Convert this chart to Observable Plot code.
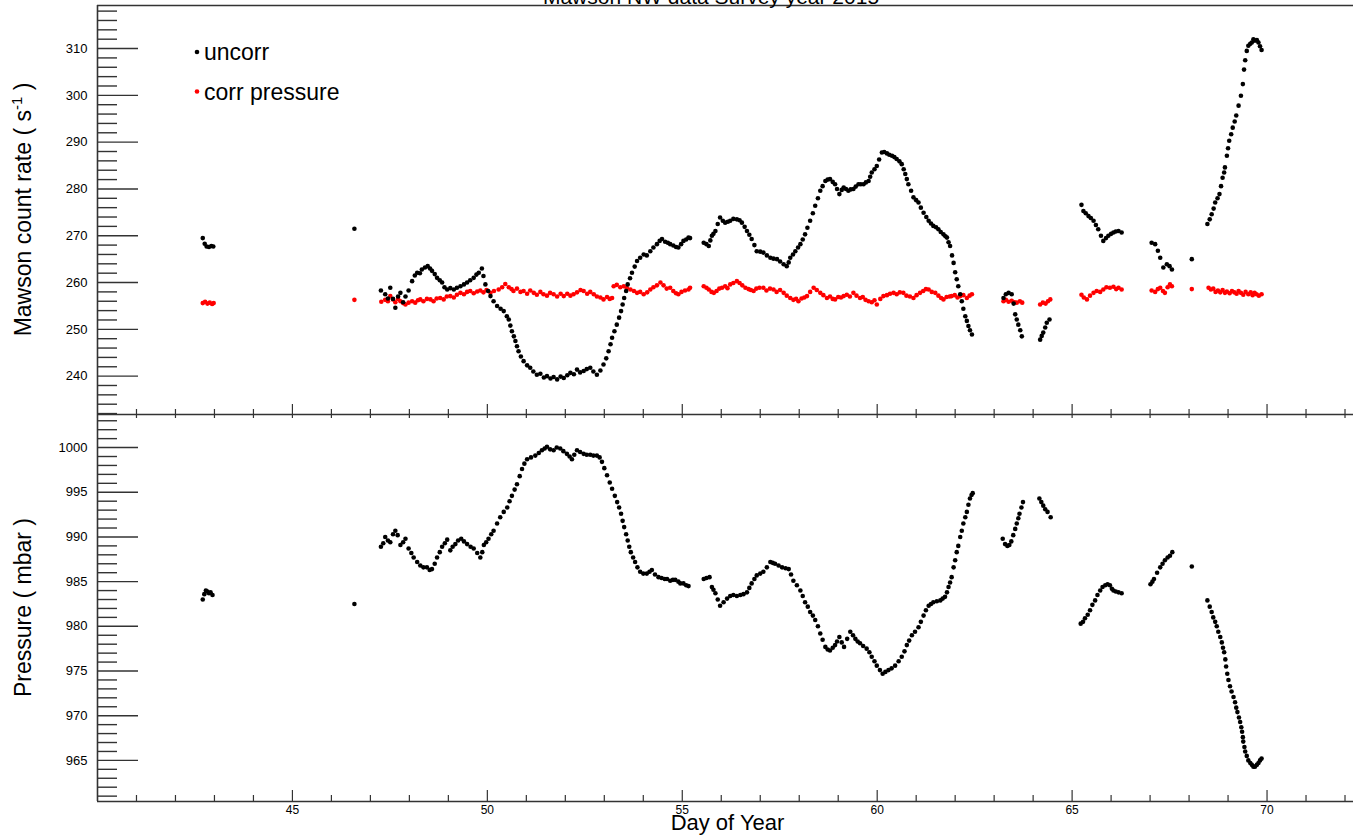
<!DOCTYPE html>
<html>
<head>
<meta charset="utf-8">
<script src="https://cdn.jsdelivr.net/npm/d3@7"></script>
<script src="https://cdn.jsdelivr.net/npm/@observablehq/plot@0.6"></script>
<style>
  html, body { margin: 0; padding: 0; background: #fff; overflow: hidden; }
  #chart { position: relative; width: 1353px; height: 838px; }
  #chart svg { position: absolute; left: 0; overflow: visible; max-width: none; }
</style>
</head>
<body>
<div id="chart"></div>
<script>
// Mawson neutron monitor, survey year: count rate and station pressure vs day of year.

const titleText = "Mawson NW data Survey year 2015";
const xTitle = "Day of Year";
const rateTitle = "Mawson count rate ( s";
const pressTitle = "Pressure ( mbar )";
const seriesNames = ["uncorr", "corr pressure"];

// [day of year, count rate s^-1] — uncorrected
const uncorrRate = [
  [42.70,269.5],[42.75,268.3],[42.80,267.7],[42.86,267.6],[42.92,267.8],[42.97,267.7],
  [46.59,271.5],
  [47.27,258.3],[47.38,257.5],[47.45,256.6],[47.51,258.9],[47.58,256.5],[47.64,254.6],[47.71,257.0],
  [47.77,257.8],[47.84,255.8],[47.90,257.0],[47.98,258.3],[48.07,260.3],[48.14,261.5],[48.20,262.1],
  [48.27,262.0],[48.32,262.8],[48.40,263.2],[48.47,263.5],[48.53,263.0],[48.58,262.5],[48.65,261.8],
  [48.71,261.0],[48.78,260.5],[48.84,260.0],[48.90,259.0],[48.97,258.5],[49.05,258.8],[49.14,258.5],
  [49.22,258.9],[49.31,259.2],[49.40,259.6],[49.48,260.0],[49.56,260.5],[49.65,261.0],[49.72,261.7],
  [49.78,262.1],[49.86,263.0],[49.90,261.4],[49.95,259.6],[50.02,258.2],[50.08,257.1],[50.16,256.0],
  [50.25,255.0],[50.34,254.4],[50.42,253.9],[50.50,252.8],[50.55,252.1],[50.59,250.8],[50.63,249.6],
  [50.68,248.5],[50.72,247.5],[50.76,246.4],[50.80,245.3],[50.86,244.2],[50.93,243.2],[51.02,242.3],
  [51.10,241.8],[51.18,241.0],[51.27,240.3],[51.36,240.5],[51.45,239.7],[51.53,240.0],[51.62,239.5],
  [51.70,239.8],[51.79,239.3],[51.88,239.9],[51.96,239.6],[52.05,240.2],[52.13,240.7],[52.22,240.4],
  [52.30,241.4],[52.38,240.8],[52.47,241.1],[52.55,241.5],[52.64,241.8],[52.72,241.0],[52.81,240.3],
  [52.90,241.2],[52.98,242.5],[53.05,243.8],[53.11,245.3],[53.16,246.8],[53.20,248.2],[53.26,249.6],
  [53.32,251.0],[53.38,252.5],[53.43,253.9],[53.47,255.3],[53.51,256.7],[53.56,258.2],[53.60,259.6],
  [53.66,260.9],[53.71,262.1],[53.78,263.4],[53.84,264.6],[53.92,265.3],[54.01,266.0],[54.09,265.8],
  [54.18,266.7],[54.26,267.5],[54.35,268.2],[54.42,268.9],[54.48,269.3],[54.56,268.7],[54.63,268.5],
  [54.69,268.2],[54.77,267.9],[54.84,267.6],[54.90,267.5],[54.97,268.2],[55.03,268.9],[55.10,269.2],
  [55.16,269.6],[55.20,269.5],
  [55.55,268.5],[55.62,268.2],[55.68,267.8],[55.72,269.0],[55.76,270.0],[55.80,270.4],[55.85,271.0],
  [55.91,272.5],[55.97,273.9],[56.04,273.2],[56.10,272.8],[56.17,273.0],[56.23,273.2],[56.31,273.6],
  [56.40,273.5],[56.47,273.3],[56.53,272.8],[56.60,271.9],[56.66,271.0],[56.72,270.2],[56.78,269.3],
  [56.85,268.0],[56.91,266.7],[57.00,266.6],[57.08,266.4],[57.17,265.8],[57.26,265.3],[57.34,265.1],
  [57.43,265.0],[57.51,264.5],[57.60,263.9],[57.68,263.5],[57.73,264.3],[57.77,265.3],[57.84,266.0],
  [57.90,266.7],[57.97,267.5],[58.03,268.2],[58.09,269.2],[58.15,270.3],[58.21,271.7],[58.28,273.2],
  [58.35,274.8],[58.41,276.4],[58.48,278.0],[58.54,279.6],[58.60,280.6],[58.67,281.7],[58.73,282.0],
  [58.79,282.1],[58.86,281.5],[58.92,281.0],[58.97,280.0],[59.03,278.9],[59.09,279.8],[59.14,280.3],
  [59.20,280.0],[59.26,279.6],[59.32,279.9],[59.39,280.0],[59.45,280.5],[59.52,281.0],[59.58,281.0],
  [59.65,281.0],[59.71,281.4],[59.78,281.7],[59.82,282.6],[59.86,283.5],[59.93,284.2],[59.99,284.9],
  [60.05,286.3],[60.12,287.8],[60.18,287.9],[60.25,287.6],[60.31,287.3],[60.38,287.1],[60.44,286.8],
  [60.50,286.4],[60.57,285.9],[60.63,285.3],[60.68,284.2],[60.72,283.2],[60.76,282.1],[60.80,281.0],
  [60.87,279.6],[60.93,278.2],[61.00,277.6],[61.06,277.1],[61.12,276.0],[61.19,274.9],[61.26,274.0],
  [61.32,273.2],[61.38,272.6],[61.44,272.1],[61.51,271.8],[61.57,271.4],[61.63,270.8],[61.70,270.3],
  [61.75,269.9],[61.79,269.6],[61.83,268.6],[61.87,267.8],[61.92,265.8],[61.96,264.2],[62.00,262.2],
  [62.04,260.7],[62.08,259.2],[62.13,257.5],[62.17,256.0],[62.21,254.4],[62.26,252.8],[62.30,251.8],
  [62.34,250.7],[62.38,249.8],[62.43,248.9],
  [63.24,256.7],[63.30,257.5],[63.37,257.8],[63.45,257.5],[63.50,255.5],[63.54,253.2],[63.58,252.1],
  [63.62,251.0],[63.67,249.8],[63.71,248.5],
  [64.18,247.8],[64.22,248.6],[64.26,249.3],[64.31,250.4],[64.35,251.4],[64.42,252.1],
  [65.24,276.6],[65.29,275.3],[65.35,274.8],[65.42,274.2],[65.48,273.8],[65.55,273.2],[65.61,272.3],
  [65.67,271.4],[65.74,270.0],[65.80,268.9],[65.87,269.5],[65.93,270.0],[66.00,270.4],[66.06,270.7],
  [66.12,270.9],[66.19,271.0],[66.27,270.7],
  [67.04,268.5],[67.13,268.2],[67.20,266.8],[67.26,265.3],[67.34,263.2],[67.43,263.9],[67.50,263.5],
  [67.56,262.8],
  [68.07,265.0],
  [68.47,272.5],[68.53,273.5],[68.58,274.6],[68.63,275.8],[68.67,277.1],[68.73,278.0],[68.78,278.9],
  [68.82,280.6],[68.86,282.4],[68.90,283.5],[68.92,284.6],[68.97,287.1],[69.00,288.7],[69.03,290.3],
  [69.08,291.7],[69.12,293.1],[69.17,294.4],[69.21,295.7],[69.27,297.8],[69.33,299.9],[69.38,302.4],
  [69.41,305.5],[69.44,307.5],[69.48,309.5],[69.52,310.6],[69.57,311.0],[69.61,311.3],[69.65,312.0],
  [69.69,311.7],[69.74,311.8],[69.78,311.3],[69.82,310.5],[69.86,309.7]
];

// [day of year, count rate s^-1] — corrected for pressure
const corrRate = [
  [42.70,255.6],[42.76,255.9],[42.82,255.5],[42.88,255.7],[42.94,255.4],[42.98,255.6],
  [46.59,256.3],
  [47.28,255.9],[47.38,256.3],[47.45,256.0],[47.51,257.1],[47.58,256.4],[47.64,255.8],[47.71,256.5],
  [47.77,256.0],[47.84,255.6],[47.90,255.3],[47.98,255.7],[48.07,256.0],[48.15,255.7],[48.22,256.2],
  [48.28,256.4],[48.36,256.0],[48.45,256.5],[48.54,256.4],[48.62,256.0],[48.70,256.6],[48.79,256.7],
  [48.88,256.4],[48.96,257.0],[49.05,257.1],[49.14,256.8],[49.22,257.4],[49.31,257.8],[49.40,257.5],
  [49.48,258.0],[49.56,258.2],[49.65,257.7],[49.74,258.1],[49.82,258.3],[49.90,257.9],[49.98,258.4],
  [50.08,257.8],[50.17,258.2],[50.29,258.5],[50.38,259.0],[50.46,259.7],[50.55,259.0],[50.62,258.6],
  [50.67,258.2],[50.76,258.7],[50.85,258.0],[50.93,258.2],[51.02,257.6],[51.10,258.3],[51.19,257.8],
  [51.27,257.4],[51.36,258.0],[51.44,257.5],[51.53,257.2],[51.61,257.8],[51.70,257.5],[51.79,257.0],
  [51.88,257.6],[51.96,257.1],[52.05,257.6],[52.13,257.2],[52.21,257.5],[52.30,257.9],[52.39,258.4],
  [52.47,258.2],[52.56,257.6],[52.64,258.0],[52.73,257.5],[52.81,257.0],[52.90,256.8],[52.98,256.4],
  [53.07,256.9],[53.14,256.5],[53.20,256.7],[53.24,259.2],[53.32,259.5],[53.41,259.0],[53.50,259.2],
  [53.58,258.8],[53.67,258.5],[53.76,258.2],[53.84,257.8],[53.92,258.0],[54.01,257.5],[54.10,257.9],
  [54.18,258.5],[54.26,259.0],[54.35,259.4],[54.44,260.0],[54.52,259.4],[54.60,258.7],[54.69,258.9],
  [54.77,258.2],[54.84,257.7],[54.90,257.5],[54.98,258.0],[55.07,258.3],[55.16,258.5],[55.20,258.9],
  [55.55,259.2],[55.62,258.9],[55.68,258.5],[55.75,258.0],[55.81,257.8],[55.88,258.2],[55.95,258.7],
  [56.02,258.9],[56.10,259.2],[56.16,258.8],[56.23,259.6],[56.31,259.9],[56.40,260.3],[56.47,259.9],
  [56.54,259.4],[56.62,258.9],[56.70,258.6],[56.76,258.4],[56.83,258.2],[56.90,258.7],[56.98,258.9],
  [57.08,258.9],[57.16,258.3],[57.25,258.7],[57.34,258.5],[57.42,258.0],[57.51,258.4],[57.60,257.8],
  [57.68,257.2],[57.77,256.7],[57.85,256.3],[57.92,256.5],[57.98,256.0],[58.06,256.6],[58.13,256.8],
  [58.20,257.1],[58.28,258.0],[58.37,258.9],[58.45,258.4],[58.54,257.8],[58.62,257.3],[58.71,256.7],
  [58.79,257.0],[58.86,256.5],[58.92,256.4],[59.00,256.9],[59.07,256.8],[59.14,257.1],[59.22,257.4],
  [59.30,257.0],[59.39,257.8],[59.47,257.2],[59.56,256.7],[59.63,256.9],[59.70,256.3],[59.78,256.0],
  [59.86,255.8],[59.93,256.2],[59.99,255.3],[60.08,256.5],[60.16,257.1],[60.25,257.3],[60.33,257.6],
  [60.42,257.8],[60.50,257.5],[60.58,257.9],[60.67,257.8],[60.75,257.2],[60.84,257.0],[60.93,256.7],
  [61.01,257.3],[61.10,257.8],[61.18,258.2],[61.25,258.6],[61.32,258.5],[61.40,258.0],[61.49,257.8],
  [61.57,257.2],[61.64,256.7],[61.70,256.4],[61.78,256.9],[61.86,257.0],[61.91,257.1],[61.99,257.3],
  [62.06,256.8],[62.13,257.1],[62.21,257.3],[62.30,256.7],[62.37,257.2],[62.43,257.5],
  [63.24,256.0],[63.30,256.3],[63.37,255.9],[63.45,256.1],[63.52,255.8],[63.58,255.7],[63.66,256.0],
  [63.72,255.7],
  [64.18,255.3],[64.25,255.7],[64.32,255.5],[64.38,256.0],[64.44,256.4],
  [65.24,257.4],[65.30,256.8],[65.38,256.4],[65.46,257.2],[65.55,257.8],[65.63,258.2],[65.72,258.0],
  [65.80,258.5],[65.88,259.0],[65.97,258.9],[66.06,259.1],[66.13,258.6],[66.19,258.9],[66.27,258.5],
  [67.04,258.3],[67.13,258.0],[67.20,258.6],[67.26,258.9],[67.33,258.2],[67.38,257.8],[67.45,259.0],
  [67.51,259.6],[67.56,259.2],
  [68.07,258.6],
  [68.50,258.9],[68.56,258.5],[68.62,258.7],[68.68,258.0],[68.74,258.3],[68.80,257.9],[68.86,258.4],
  [68.92,257.8],[68.97,258.1],[69.04,257.7],[69.10,258.2],[69.16,257.9],[69.22,257.6],[69.27,258.2],
  [69.33,257.8],[69.39,257.4],[69.45,258.0],[69.52,257.5],[69.58,257.9],[69.63,257.3],[69.68,257.8],
  [69.73,257.5],[69.79,257.2],[69.86,257.5]
];

// [day of year, station pressure mbar]
const pressure = [
  [42.70,983.0],[42.74,983.6],[42.78,984.0],[42.82,983.9],[42.86,983.7],[42.90,983.8],[42.95,983.5],
  [46.59,982.5],
  [47.27,988.9],[47.33,989.3],[47.38,990.0],[47.45,989.6],[47.51,989.4],[47.58,990.3],[47.64,990.7],
  [47.70,990.2],[47.77,989.1],[47.84,989.4],[47.90,989.8],[47.98,988.7],[48.05,988.2],[48.11,987.7],
  [48.20,987.2],[48.28,986.8],[48.36,986.6],[48.45,986.6],[48.52,986.3],[48.58,986.4],[48.65,987.0],
  [48.71,987.7],[48.78,988.3],[48.84,988.9],[48.91,989.3],[48.97,989.7],[49.05,988.5],[49.11,988.9],
  [49.18,989.2],[49.25,989.6],[49.33,989.8],[49.40,989.5],[49.48,989.2],[49.57,988.9],[49.65,988.7],
  [49.74,988.2],[49.82,987.7],[49.87,988.3],[49.91,989.1],[49.97,989.4],[50.03,989.8],[50.10,990.3],
  [50.16,990.7],[50.25,991.5],[50.33,992.2],[50.42,992.8],[50.51,993.3],[50.57,994.0],[50.63,994.6],
  [50.70,995.3],[50.76,995.9],[50.83,996.8],[50.89,997.6],[50.95,998.2],[51.02,998.7],[51.12,998.9],
  [51.23,999.1],[51.32,999.4],[51.40,999.7],[51.47,999.9],[51.53,1000.1],[51.61,999.8],[51.70,999.7],
  [51.78,1000.0],[51.87,999.9],[51.95,999.6],[52.04,999.3],[52.11,999.0],[52.17,998.7],[52.23,999.2],
  [52.30,999.7],[52.38,999.5],[52.47,999.3],[52.55,999.2],[52.64,999.2],[52.72,999.1],[52.81,999.1],
  [52.88,998.9],[52.94,998.4],[53.00,997.7],[53.07,996.9],[53.14,996.1],[53.20,995.4],[53.27,994.6],
  [53.33,993.9],[53.38,993.3],[53.43,992.6],[53.47,991.8],[53.51,991.1],[53.56,990.3],[53.60,989.6],
  [53.64,988.9],[53.68,988.3],[53.74,987.7],[53.79,987.2],[53.85,986.6],[53.92,986.1],[54.00,985.9],
  [54.09,985.9],[54.16,986.1],[54.22,986.3],[54.30,985.8],[54.39,985.5],[54.47,985.4],[54.55,985.3],
  [54.61,985.3],[54.69,985.1],[54.76,985.2],[54.82,985.2],[54.90,985.0],[54.95,984.8],[55.03,984.8],
  [55.10,984.6],[55.16,984.5],
  [55.55,985.3],[55.62,985.4],[55.70,985.5],[55.76,984.4],[55.80,984.1],[55.85,983.7],[55.91,983.0],
  [55.97,982.3],[56.06,982.7],[56.15,983.1],[56.23,983.4],[56.31,983.5],[56.40,983.4],[56.49,983.5],
  [56.57,983.6],[56.66,983.8],[56.72,984.3],[56.78,984.8],[56.85,985.3],[56.91,985.7],[57.00,985.9],
  [57.08,986.1],[57.17,986.6],[57.26,987.2],[57.32,987.1],[57.38,987.0],[57.47,986.8],[57.56,986.6],
  [57.65,986.5],[57.73,986.4],[57.79,985.8],[57.85,985.1],[57.94,984.6],[58.03,984.0],[58.09,983.4],
  [58.15,982.7],[58.22,982.2],[58.28,981.6],[58.35,981.2],[58.41,980.7],[58.48,980.0],[58.54,979.2],
  [58.60,978.5],[58.67,977.7],[58.73,977.4],[58.79,977.3],[58.86,977.6],[58.92,977.9],[58.97,978.3],
  [59.03,978.8],[59.09,978.2],[59.15,977.7],[59.23,978.6],[59.31,979.4],[59.38,979.0],[59.44,978.6],
  [59.50,978.3],[59.56,978.1],[59.64,977.8],[59.73,977.5],[59.80,977.1],[59.86,976.6],[59.93,976.1],
  [59.99,975.6],[60.07,975.1],[60.14,974.7],[60.21,974.9],[60.29,975.1],[60.37,975.3],[60.46,975.6],
  [60.55,976.1],[60.63,976.6],[60.70,977.2],[60.76,977.9],[60.82,978.4],[60.89,979.0],[60.97,979.4],
  [61.06,979.9],[61.12,980.5],[61.19,981.2],[61.25,981.8],[61.32,982.3],[61.38,982.5],[61.44,982.7],
  [61.53,982.8],[61.62,982.9],[61.68,983.1],[61.74,983.3],[61.79,983.8],[61.83,984.4],[61.87,984.9],
  [61.91,985.5],[61.96,986.6],[62.00,987.4],[62.04,988.3],[62.08,989.0],[62.13,990.0],[62.17,990.7],
  [62.21,991.5],[62.26,992.2],[62.30,992.8],[62.34,993.6],[62.38,994.3],[62.42,994.7],[62.45,994.9],
  [63.22,989.8],[63.28,989.2],[63.34,989.0],[63.39,989.1],[63.44,989.5],[63.49,990.2],[63.54,990.9],
  [63.58,991.5],[63.62,992.1],[63.65,992.6],[63.70,993.3],[63.74,993.9],
  [64.16,994.3],[64.21,993.9],[64.26,993.5],[64.31,993.1],[64.37,992.8],[64.45,992.2],
  [65.22,980.3],[65.28,980.5],[65.33,980.9],[65.40,981.3],[65.46,981.8],[65.52,982.4],[65.59,982.9],
  [65.65,983.5],[65.72,984.0],[65.78,984.4],[65.85,984.6],[65.91,984.7],[65.97,984.6],[66.02,984.2],
  [66.06,984.0],[66.12,983.9],[66.19,983.8],[66.27,983.7],
  [67.01,984.7],[67.06,985.0],[67.10,985.3],[67.18,986.0],[67.26,986.6],[67.32,987.0],[67.38,987.4],
  [67.45,987.7],[67.51,987.9],[67.57,988.3],
  [68.07,986.7],
  [68.47,982.9],[68.53,982.2],[68.58,981.6],[68.62,981.0],[68.67,980.5],[68.71,980.0],[68.75,979.4],
  [68.80,978.8],[68.84,978.2],[68.87,977.6],[68.90,977.1],[68.93,976.3],[68.95,975.5],[68.98,974.7],
  [69.01,974.0],[69.05,973.3],[69.09,972.7],[69.14,972.1],[69.18,971.5],[69.21,970.9],[69.24,970.4],
  [69.28,969.8],[69.31,969.3],[69.34,968.7],[69.36,968.2],[69.38,967.6],[69.39,967.1],[69.42,966.5],
  [69.44,966.0],[69.48,965.5],[69.52,965.0],[69.57,964.7],[69.61,964.5],[69.65,964.3],[69.69,964.3],
  [69.74,964.5],[69.78,964.7],[69.82,965.0],[69.86,965.2]
];

// Axis ticks
const dayDomain = [40, 72.5];
const dayMajor = [45, 50, 55, 60, 65, 70];
const dayMinor = [41,42,43,44,46,47,48,49,51,52,53,54,56,57,58,59,61,62,63,64,66,67,68,69,71,72];
const rateDomain = [231.8, 319.2];
const rateMajor = [240, 250, 260, 270, 280, 290, 300, 310];
const rateMinor = [232,234,236,238,242,244,246,248,252,254,256,258,262,264,266,268,272,274,276,278,
                   282,284,286,288,292,294,296,298,302,304,306,308,312,314,316,318];
const pressDomain = [960.4, 1003.7];
const pressMajor = [965, 970, 975, 980, 985, 990, 995, 1000];
const pressMinor = [961,962,963,964,966,967,968,969,971,972,973,974,976,977,978,979,981,982,983,984,
                    986,987,988,989,991,992,993,994,996,997,998,999,1001,1002,1003];

// Layout (pixels)
const W = 1353;
const ML = 97;
const MR = -11;                 // frame continues past the right edge of the page
const FRAME_W = W - MR - ML;
const TOP_H = 414, TOP_MT = 5;
const BOT_H = 424, BOT_MB = 37;
const TOP_FH = TOP_H - TOP_MT;
const BOT_FH = BOT_H - BOT_MB;

const FONT = '"Liberation Sans", Arial, Helvetica, sans-serif';
const AXIS = "#333";
const DOT_R = 2.3;
const plain = d => String(d);
const rowsOf = (pairs) => pairs.map(([day, v]) => ({day, v}));

const common = {
  width: W,
  marginLeft: ML,
  marginRight: MR,
  x: {domain: dayDomain, axis: null},
  style: {fontFamily: FONT, color: "#000", background: "transparent", overflow: "visible"}
};

const ratePlot = Plot.plot({
  ...common,
  height: TOP_H,
  marginTop: TOP_MT,
  marginBottom: 0,
  y: {domain: rateDomain, axis: null},
  marks: [
    Plot.tickY(rateMajor, {y: d => d, insetRight: FRAME_W - 41, stroke: AXIS, strokeWidth: 1.4}),
    Plot.tickY(rateMinor, {y: d => d, insetRight: FRAME_W - 20, stroke: AXIS, strokeWidth: 1.4}),
    Plot.tickX(dayMajor, {x: d => d, insetTop: TOP_FH - 10, stroke: AXIS, strokeWidth: 1.2}),
    Plot.tickX(dayMinor, {x: d => d, insetTop: TOP_FH - 5, stroke: AXIS, strokeWidth: 1.2}),
    Plot.axisY(rateMajor, {tickSize: 0, tickPadding: 10, fontSize: 13, label: null, tickFormat: plain}),
    Plot.dot(rowsOf(corrRate), {x: "day", y: "v", r: DOT_R, fill: "#ff0000", stroke: null}),
    Plot.dot(rowsOf(uncorrRate), {x: "day", y: "v", r: DOT_R, fill: "#000", stroke: null}),
    Plot.ruleX([dayDomain[0]], {stroke: AXIS, strokeWidth: 1.6}),
    Plot.ruleY([rateDomain[1]], {stroke: AXIS, strokeWidth: 1.6}),
    Plot.ruleY([rateDomain[0]], {stroke: AXIS, strokeWidth: 1.6})
  ]
});

const pressPlot = Plot.plot({
  ...common,
  height: BOT_H,
  marginTop: 0,
  marginBottom: BOT_MB,
  y: {domain: pressDomain, axis: null},
  marks: [
    Plot.tickY(pressMajor, {y: d => d, insetRight: FRAME_W - 41, stroke: AXIS, strokeWidth: 1.4}),
    Plot.tickY(pressMinor, {y: d => d, insetRight: FRAME_W - 20, stroke: AXIS, strokeWidth: 1.4}),
    Plot.tickX(dayMajor, {x: d => d, insetTop: BOT_FH - 11, stroke: AXIS, strokeWidth: 1.2}),
    Plot.tickX(dayMinor, {x: d => d, insetTop: BOT_FH - 6, stroke: AXIS, strokeWidth: 1.2}),
    Plot.tickX(dayMajor.concat(dayMinor), {x: d => d, insetBottom: BOT_FH - 4, stroke: AXIS, strokeWidth: 1.2}),
    Plot.axisY(pressMajor, {tickSize: 0, tickPadding: 10, fontSize: 13, label: null, tickFormat: plain}),
    Plot.axisX(dayMajor, {tickSize: 0, tickPadding: 4, fontSize: 12, label: null, tickFormat: plain}),
    Plot.dot(rowsOf(pressure), {x: "day", y: "v", r: DOT_R, fill: "#000", stroke: null}),
    Plot.ruleX([dayDomain[0]], {stroke: AXIS, strokeWidth: 1.6}),
    Plot.ruleY([pressDomain[0]], {stroke: AXIS, strokeWidth: 1.6})
  ]
});

ratePlot.style.top = "0px";
pressPlot.style.top = TOP_H + "px";
const chart = document.getElementById("chart");
chart.appendChild(ratePlot);
chart.appendChild(pressPlot);

// Titles and legend
const rateSvg = d3.select(ratePlot);
const pressSvg = d3.select(pressPlot);

rateSvg.append("text")
  .attr("x", 711).attr("y", 3.5)
  .attr("text-anchor", "middle")
  .attr("font-family", FONT).attr("font-size", 21).attr("fill", "#000")
  .text(titleText);

const rateLabel = rateSvg.append("text")
  .attr("transform", `translate(31,${TOP_MT + TOP_FH / 2}) rotate(-90)`)
  .attr("text-anchor", "middle")
  .attr("font-family", FONT).attr("font-size", 23).attr("fill", "#000");
rateLabel.append("tspan").text(rateTitle);
rateLabel.append("tspan").attr("dy", -9).attr("font-size", 15).text("-1");
rateLabel.append("tspan").attr("dy", 9).text(" )");

pressSvg.append("text")
  .attr("transform", `translate(31,${BOT_FH / 2}) rotate(-90)`)
  .attr("text-anchor", "middle")
  .attr("font-family", FONT).attr("font-size", 23).attr("fill", "#000")
  .text(pressTitle);

pressSvg.append("text")
  .attr("x", ML + FRAME_W / 2 - 3).attr("y", 416)
  .attr("text-anchor", "middle")
  .attr("font-family", FONT).attr("font-size", 22).attr("fill", "#000")
  .text(xTitle);

const legendItems = [
  {name: seriesNames[0], color: "#000", y: 52, base: 60},
  {name: seriesNames[1], color: "#ff0000", y: 91.5, base: 100}
];
for (const item of legendItems) {
  rateSvg.append("circle").attr("cx", 197).attr("cy", item.y).attr("r", DOT_R).attr("fill", item.color);
  rateSvg.append("text")
    .attr("x", 204).attr("y", item.base)
    .attr("text-anchor", "start")
    .attr("font-family", FONT).attr("font-size", 23).attr("fill", "#000")
    .text(item.name);
}
</script>
</body>
</html>
